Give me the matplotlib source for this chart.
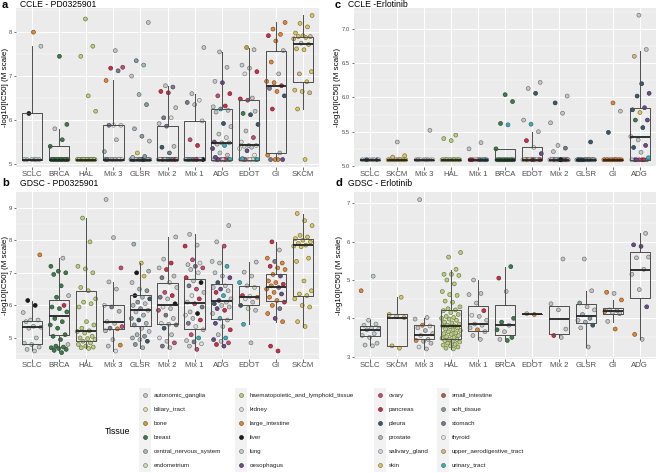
import matplotlib
matplotlib.use("Agg")
import matplotlib.pyplot as plt
from matplotlib.patches import Rectangle
import matplotlib.colors as mcolors
import numpy as np

plt.rcParams['font.family'] = ['Liberation Sans', 'DejaVu Sans']

# ---------------- tissues ----------------
TISSUE_CODES = ["AG", "BT", "BO", "BR", "CN", "EN", "HL", "KI", "LI", "LV", "LU", "OE",
                "OV", "PA", "PL", "PR", "SG", "SK", "SI", "ST", "SO", "TH", "UA", "UT"]
TISSUE_NAMES = ["autonomic_ganglia", "biliary_tract", "bone", "breast", "central_nervous_system",
                "endometrium", "haematopoietic_and_lymphoid_tissue", "kidney", "large_intestine",
                "liver", "lung", "oesophagus", "ovary", "pancreas", "pleura", "prostate",
                "salivary_gland", "skin", "small_intestine", "soft_tissue", "stomach", "thyroid",
                "upper_aerodigestive_tract", "urinary_tract"]
TISSUE_COLORS = ["#c6c6c6", "#e6dfa6", "#c9a23a", "#3f7d4c", "#a9b9b9", "#c9e0b2",
                 "#bccf7e", "#dedede", "#e0893a", "#1a1a1a", "#c2cdcd", "#6b4c8c",
                 "#c2507b", "#c8324b", "#3b5b6b", "#b9b9b9", "#d9d9d9", "#d9c862",
                 "#a06b52", "#8b9b9b", "#7b7b8b", "#e9e9e9", "#d9b98a", "#41b0b8"]

# ---------------- panel a: CCLE - PD0325901 ----------------
A_CATS = ["SCLC", "BRCA", "HAL", "Mix 3", "GLSR", "Mix 2", "Mix 1", "ADG", "EDOT", "GI", "SKCM"]
A_Q1 = [5.1, 5.1, 5.1, 5.1, 5.1, 5.1, 5.1, 5.1, 5.1, 5.25, 6.87]
A_MED = [5.1, 5.1, 5.1, 5.1, 5.1, 5.1, 5.1, 5.48, 5.42, 6.78, 7.72]
A_Q3 = [6.15, 5.4, 5.1, 5.88, 5.1, 5.86, 5.98, 6.25, 6.45, 7.58, 7.9]
A_WLO = [5.1, 5.1, 5.1, 5.1, 5.1, 5.1, 5.1, 5.1, 5.1, 5.1, 6.25]
A_WHI = [7.68, 5.8, 5.1, 6.9, 5.1, 6.78, 6.6, 7.55, 7.65, 8.22, 8.38]
A_VALS = {
    "SCLC": [5.1] * 6 + [6.15, 7.68, 8.0],
    "BRCA": [5.1] * 12 + [5.4, 5.55, 5.8, 5.9, 7.45],
    "HAL": [5.1] * 20 + [6.2, 6.55, 7.45, 7.68, 8.3],
    "Mix 3": [5.1] * 12 + [5.28, 5.55, 5.88, 5.88, 5.88, 6.9, 7.12, 7.18, 7.2, 7.58],
    "GLSR": [5.1] * 38 + [5.15, 5.17, 5.25, 5.52, 5.63, 5.8, 6.35, 6.58, 7.0, 7.25, 7.35, 8.22],
    "Mix 2": [5.1] * 21 + [5.25, 5.38, 5.4, 5.86, 5.92, 6.05, 6.05, 6.28, 6.62, 6.65, 6.75, 6.78],
    "Mix 1": [5.1] * 13 + [5.42, 5.55, 5.98, 6.35, 6.4, 6.45, 6.6, 7.65],
    "ADG": [5.1] * 9 + [5.15, 5.2, 5.25, 5.35, 5.42, 5.45, 5.48, 5.48, 5.5, 5.6, 5.68, 5.85, 5.92,
                        6.18, 6.22, 6.25, 6.3, 6.32, 6.55, 6.6, 6.85, 6.88, 7.2, 7.55],
    "EDOT": [5.1] * 9 + [5.12, 5.2, 5.3, 5.35, 5.38, 5.4, 5.42, 5.42, 5.5, 5.6, 5.75, 5.9, 6.12,
                         6.15, 6.2, 6.45, 6.48, 6.5, 7.05, 7.1, 7.18, 7.25, 7.6, 7.65],
    "GI": [5.1, 5.1, 5.1, 5.1, 5.2, 5.25, 6.25, 6.55, 6.65, 6.72, 6.78, 6.85, 6.88, 7.05, 7.32,
           7.58, 7.8, 7.92, 7.95, 8.07, 8.22],
    "SKCM": [5.1, 6.25, 6.62, 6.65, 6.68, 6.87, 7.05, 7.1, 7.6, 7.62, 7.72, 7.75, 7.85, 7.88, 7.9,
             7.9, 7.92, 7.98, 8.12, 8.2, 8.38],
}
A_TIS = {
    "SCLC": "LU LU LU LU LU LU LV LU LI",
    "BRCA": "BR BR PA BR BR BR BR BR BR BR BR BR BR BR AG BR BR",
    "HAL": "HL",
    "Mix 3": "KI PR OV KI SO AG TH KI LU SO KI PR CN AG SO KI TH LI SO PA OV AG",
    "GLSR": "CN ST PL LU " * 9 + "CN ST " + "CN ST SK AG ST CN ST CN AG CN ST AG",
    "Mix 2": "OV PA UT KI SO AG PR " * 3 + "SO PL AG SO AG KI SO AG PA PA SO AG",
    "Mix 1": "LV OV UT KI SO AG PR LV OV UT KI SO AG PA OV SG AG SO KI AG AG",
    "ADG": "PA OE UT OV LU PA OE UT LU OE AG LU OE UT AG LU LU OE SG LU AG PL AG LU UT LU PA OV PA OE LU AG AG",
    "EDOT": "EN OV UT TH KI EN OV UT TH UT TH OE TH LU EN KI AG KI OV AG PL PL BR AG OV PA AG KI PA AG LU AG BO",
    "GI": "LI SO OE LI LI AG PA PL LI SO PA LI LI AG LI AG LI PA LI LI LI",
    "SKCM": "SK SK UA SK SK SK UA SK SK SK SK AG SK SK SK UA SK SK SK SK SK",
}

# ---------------- panel b: GDSC - PD0325901 ----------------
B_CATS = ["SCLC", "BRCA", "HAL", "Mix 3", "GLSR", "Mix 2", "Mix 1", "ADG", "EDOT", "GI", "SKCM"]
B_Q1 = [4.82, 5.1, 4.9, 5.28, 5.38, 5.42, 5.28, 5.57, 6.0, 6.13, 6.3]
B_MED = [5.33, 5.67, 5.2, 5.5, 5.85, 6.02, 6.07, 6.15, 6.27, 6.57, 7.85]
B_Q3 = [5.53, 6.17, 6.45, 6.02, 6.33, 6.68, 6.82, 6.67, 6.6, 6.95, 8.03]
B_WLO = [4.62, 4.6, 4.68, 4.6, 4.7, 4.68, 4.65, 4.75, 5.43, 5.5, 5.35]
B_WHI = [6.15, 7.45, 8.68, 6.72, 7.3, 8.1, 8.18, 7.78, 7.33, 7.95, 8.82]
B_VALS = {
    "SCLC": [4.6, 4.65, 4.72, 4.8, 4.84, 5.0, 5.3, 5.33, 5.36, 5.5, 5.55, 5.55, 5.78, 6.0, 6.15, 7.55],
    "BRCA": [4.55, 4.62, 4.65, 4.68, 4.7, 4.72, 4.75, 4.8, 4.95, 5.05, 5.1, 5.3, 5.4, 5.5, 5.6,
             5.8, 5.9, 5.95, 6.0, 6.25, 6.3, 6.6, 6.95, 7.0, 7.05, 7.2, 7.45],
    "HAL": [4.68, 4.7, 4.72, 4.75, 4.8, 4.85, 4.9, 4.95, 4.98, 5.0, 5.05, 5.15, 5.2, 5.22, 5.3,
            5.4, 5.5, 5.95, 6.05, 6.1, 6.2, 6.45, 6.55, 7.0, 7.12, 7.2, 7.95, 8.68],
    "Mix 3": [4.6, 4.75, 4.78, 4.95, 5.22, 5.28, 5.3, 5.35, 5.45, 5.5, 5.82, 5.95, 6.0, 6.5, 6.72,
              7.15, 8.08, 9.25],
    "GLSR": [4.7, 4.8, 4.9, 4.95, 5.0, 5.05, 5.1, 5.2, 5.3, 5.4, 5.45, 5.55, 5.6, 5.7, 5.8, 5.85,
             5.9, 6.0, 6.05, 6.1, 6.2, 6.25, 6.3, 6.45, 6.5, 6.7, 6.9, 7.0, 7.05, 7.3, 7.88],
    "Mix 2": [4.7, 4.75, 4.85, 4.9, 5.0, 5.1, 5.3, 5.4, 5.42, 5.45, 5.6, 5.7, 5.85, 5.9, 5.95,
              6.05, 6.2, 6.25, 6.3, 6.4, 6.55, 6.7, 6.85, 6.9, 7.1, 7.15, 7.3, 7.42, 8.1],
    "Mix 1": [4.65, 4.75, 4.82, 4.88, 4.92, 5.0, 5.1, 5.25, 5.35, 5.45, 5.55, 5.6, 5.7, 5.75, 5.8,
              5.95, 6.05, 6.1, 6.2, 6.3, 6.4, 6.5, 6.6, 6.7, 6.75, 6.85, 7.0, 7.1, 7.15, 7.2,
              7.25, 7.3, 7.4, 7.82, 7.85, 8.18],
    "ADG": [4.75, 4.8, 4.85, 4.9, 4.95, 5.0, 5.1, 5.25, 5.35, 5.45, 5.55, 5.6, 5.75, 5.85, 5.9,
            5.95, 6.0, 6.05, 6.1, 6.15, 6.2, 6.3, 6.4, 6.45, 6.5, 6.55, 6.6, 6.7, 6.85, 6.9, 7.0,
            7.2, 7.3, 7.35, 7.82, 7.95, 8.45],
    "EDOT": [4.85, 5.42, 5.85, 5.9, 6.0, 6.1, 6.2, 6.25, 6.28, 6.3, 6.55, 6.6, 6.7, 6.9, 7.02, 7.33],
    "GI": [4.6, 4.75, 5.5, 5.6, 5.75, 5.9, 6.0, 6.1, 6.15, 6.25, 6.35, 6.4, 6.5, 6.55, 6.6, 6.65,
           6.7, 6.75, 6.9, 6.95, 7.1, 7.15, 7.2, 7.3, 7.35, 7.45, 7.7, 7.95],
    "SKCM": [5.35, 5.5, 5.95, 6.0, 6.2, 6.3, 6.35, 6.45, 6.75, 7.35, 7.45, 7.8, 7.82, 7.85, 7.9,
             7.95, 8.0, 8.05, 8.1, 8.15, 8.45, 8.6, 8.82],
}
B_TIS = {
    "SCLC": "LU LU LU LU LU LU LU LU LU LU LU LU LU LV LV LI",
    "BRCA": "BR BR BR BR BR BR BR AG BR BR BR BR BR BR BR BR BR BR PA BR AG BR BR BR BR BR AG",
    "HAL": "HL",
    "Mix 3": "KI AG LI AG PR LI SO OV AG KI PR SO KI AG AG OV AG AG",
    "GLSR": "CN ST PL LU CN ST CN LU AG ST CN PL ST CN AG LU ST CN AG ST PL CN LV ST CN AG SK LV CN SK CN",
    "Mix 2": "AG SO OV AG KI AG PL SO AG KI AG SO OV AG KI LV AG SO PA OV AG KI SO AG PA AG PA AG AG",
    "Mix 1": "OV AG KI SO AG UT OV AG KI SO PA AG KI LV AG SO OV AG PA KI AG OV SO LV AG PA KI AG OV SO AG KI OV PA AG AG",
    "ADG": "OE PA OV LU OE UT AG PA LU OE AG UT LU PA OE AG LU PL LU OE AG UT PA LU OE AG LU PL OE AG LU UT AG LU OV AG AG",
    "EDOT": "AG UT AG EN PL AG KI LI TH PA EN AG UT AG AG AG",
    "GI": "PA PA LI OE LI SO LI PA LI LI OE LI LI SO LI PA LI LI OE LI LI LI PA LI SO LI AG PA",
    "SKCM": "SK SK SK SK SK SK SK SK SK SK SK SK SK SK SK SK SK SK SK SK SK SK SK",
}

# ---------------- panel c: CCLE - Erlotinib ----------------
C_CATS = ["SCLC", "SKCM", "Mix 3", "HAL", "Mix 1", "BRCA", "EDOT", "Mix 2", "GLSR", "GI", "ADG"]
C_Q1 = [5.09] * 11
C_MED = [5.09, 5.09, 5.09, 5.09, 5.09, 5.09, 5.09, 5.09, 5.09, 5.09, 5.43]
C_Q3 = [5.09, 5.09, 5.09, 5.09, 5.09, 5.25, 5.27, 5.09, 5.09, 5.09, 5.85]
C_WLO = [5.09] * 11
C_WHI = [5.09, 5.09, 5.09, 5.09, 5.09, 5.25, 5.5, 5.09, 5.09, 5.09, 6.68]
C_VALS = {
    "SCLC": [5.09] * 8,
    "SKCM": [5.09] * 14 + [5.13, 5.15, 5.35],
    "Mix 3": [5.09] * 10 + [5.52],
    "HAL": [5.09] * 16 + [5.37, 5.4, 5.45],
    "Mix 1": [5.09] * 12 + [5.25, 5.34],
    "BRCA": [5.09] * 12 + [5.25, 5.6, 5.62, 5.94, 6.04],
    "EDOT": [5.09] * 20 + [5.18, 5.27, 5.37, 5.5, 5.61, 5.67, 6.06, 6.13, 6.22],
    "Mix 2": [5.09] * 22 + [5.21, 5.26, 5.3, 5.63, 5.77, 5.92, 6.02],
    "GLSR": [5.09] * 18 + [5.35],
    "GI": [5.09] * 14 + [5.49, 5.8, 5.92],
    "ADG": [5.09] * 7 + [5.12, 5.2, 5.27, 5.3, 5.38, 5.43, 5.56, 5.67, 5.67, 5.78, 5.82, 5.85,
                         6.02, 6.06, 6.2, 6.6, 6.7, 7.2],
}
C_TIS = {
    "SCLC": "LU LU PL LU LU LU PL LU",
    "SKCM": "SK SK UA SK SK SK UA SK SK SK SK UA SK SK UA SK AG",
    "Mix 3": "KI PR TH KI AG PR TH KI AG PR AG",
    "HAL": "HL",
    "Mix 1": "UT KI LV OV PA UT KI SO OV PA UT KI AG AG",
    "BRCA": "BR BR BR BR BR BR BR BR BR BR BR BR BR UT BR BR BR",
    "EDOT": "LI OV PA EN TH KI UT LI OV PA EN TH KI UT LI OV PA EN TH KI OE KI PA AG UT AG PL AG AG",
    "Mix 2": "OV PA UT KI SO AG PR OV PA UT KI SO AG PR OV PA UT KI SO AG PR LV AG SO AG AG AG PL AG",
    "GLSR": "CN ST PL CN ST PL CN ST PL CN ST PL CN ST PL CN ST PL PL",
    "GI": "LI LI LI LI SO LI LI LI LI LI LI LI LI LI PL AG LI",
    "ADG": "PA OE UT OV LU PA OE UT LU PL OE LU AG PL BR OE SK PL OE PL OE PL UA AG AG",
}

# ---------------- panel d: GDSC - Erlotinib ----------------
D_CATS = ["SCLC", "SKCM", "Mix 3", "HAL", "Mix 1", "BRCA", "EDOT", "Mix 2", "GLSR", "GI", "ADG"]
D_Q1 = [3.53, 3.28, 3.45, 3.45, 3.68, 3.57, 4.12, 3.6, 3.88, 4.1, 4.52]
D_MED = [3.7, 4.02, 3.57, 3.8, 3.85, 3.82, 4.12, 3.97, 4.05, 4.18, 5.27]
D_Q3 = [3.8, 4.1, 3.82, 4.23, 4.32, 4.35, 4.12, 4.33, 4.37, 4.28, 5.73]
D_WLO = [3.3, 3.28, 3.2, 3.2, 3.45, 3.45, 4.12, 3.5, 3.25, 3.9, 3.45]
D_WHI = [3.95, 4.55, 4.02, 5.27, 5.0, 5.35, 4.12, 4.33, 4.72, 4.48, 6.22]
D_VALS = {
    "SCLC": [3.28, 3.3, 3.35, 3.5, 3.55, 3.6, 3.7, 3.72, 3.75, 3.82, 3.85, 3.95, 4.72, 5.1],
    "SKCM": [3.22, 3.28, 4.02, 4.05, 4.1, 4.55],
    "Mix 3": [3.2, 3.25, 3.35, 3.4, 3.42, 3.45, 3.55, 3.6, 3.68, 3.75, 3.8, 3.82, 3.98, 4.02, 7.1],
    "HAL": [3.2, 3.22, 3.25, 3.28, 3.3, 3.32, 3.35, 3.38, 3.4, 3.42, 3.45, 3.45, 3.48, 3.5, 3.52,
            3.55, 3.58, 3.6, 3.62, 3.65, 3.68, 3.7, 3.72, 3.75, 3.78, 3.8, 3.8, 3.82, 3.85, 3.88,
            3.9, 3.95, 3.98, 4.0, 4.02, 4.05, 4.1, 4.15, 4.2, 4.22, 4.25, 4.3, 4.42, 4.45, 4.6,
            4.62, 4.7, 4.9, 5.0, 5.12, 5.15, 5.15, 5.28, 5.6, 5.72],
    "Mix 1": [3.45, 3.55, 3.65, 3.7, 3.75, 3.82, 3.85, 3.95, 4.05, 4.08, 4.2, 4.4, 4.62, 4.65, 5.0],
    "BRCA": [3.42, 3.45, 3.5, 3.65, 3.7, 3.82, 3.9, 4.0, 4.7, 5.05, 5.35],
    "EDOT": [4.1, 4.12],
    "Mix 2": [3.5, 3.55, 3.72, 4.22, 4.38, 5.55],
    "GLSR": [3.25, 3.75, 3.82, 3.9, 3.95, 4.0, 4.1, 4.22, 4.3, 4.4, 4.72, 5.55],
    "GI": [3.72, 3.92, 4.12, 4.15, 4.18, 4.2, 4.22, 4.48, 4.65, 4.68],
    "ADG": [3.45, 3.58, 4.3, 4.75, 5.15, 5.28, 5.58, 5.6, 5.88, 5.92, 6.22],
}
D_TIS = {
    "SCLC": "LU LU LU LU LU LU LU LU LU LU LU LU LI LU",
    "SKCM": "SK SK SK AG SK SK",
    "Mix 3": "AG KI AG PR LI AG KI AG PR AG KI LI AG AG AG",
    "HAL": "HL",
    "Mix 1": "AG AG AG LI AG AG AG AG AG KI PA AG AG AG AG",
    "BRCA": "BR AG BR AG BR AG BR BR AG PA BR",
    "EDOT": "LI AG",
    "Mix 2": "AG PA AG AG AG AG",
    "GLSR": "AG AG PL CN AG ST CN AG AG ST AG AG",
    "GI": "LI AG AG AG LI AG AG LI AG LI",
    "ADG": "AG LI OE AG AG AG AG AG OE OE AG",
}

# ---------------- drawing ----------------
W, H = 658, 473
fig = plt.figure(figsize=(W / 100, H / 100), dpi=100)
code_color = dict(zip(TISSUE_CODES, TISSUE_COLORS))


def darker(c, f=0.55):
    r, g, b = mcolors.to_rgb(c)
    return (r * f, g * f, b * f)


def add_ax(l, t, r, b):
    return fig.add_axes([l / W, 1 - b / H, (r - l) / W, (b - t) / H])


def draw_panel(ax, left_px, width_px, cats, vals, tis, q1, med, q3, wlo, whi,
               ylim, yticks, ytl, yminor, label_px):
    ax.set_facecolor("#EBEBEB")
    for s in ax.spines.values():
        s.set_visible(False)
    n = len(cats)
    ax.set_xlim(0.4, n + 0.6)
    ax.set_ylim(*ylim)
    for y in yminor:
        ax.axhline(y, color="white", lw=0.35, zorder=0)
    for y in yticks:
        ax.axhline(y, color="white", lw=0.75, zorder=0)
    for x in range(1, n + 1):
        ax.axvline(x, color="white", lw=0.75, zorder=0)
    for i, c in enumerate(cats):
        v = np.asarray(vals[c], dtype=float)
        codes = tis[c].split()
        codes = [codes[k % len(codes)] for k in range(len(v))]
        k = np.arange(len(v))
        off = (((k + 1) * 0.6180339887) % 1.0 - 0.5) * 0.72
        fc = [code_color[cc] for cc in codes]
        ec = [darker(code_color[cc]) for cc in codes]
        ax.scatter(i + 1 + off, v, s=8, c=fc, edgecolors=ec, linewidths=0.45, zorder=2)
    stats = []
    for i, c in enumerate(cats):
        stats.append(dict(q1=q1[i], med=med[i], q3=q3[i], whislo=wlo[i], whishi=whi[i], label=c))
    ax.bxp(stats, positions=range(1, n + 1), widths=0.75, showfliers=False, showcaps=False,
           boxprops=dict(color="#4d4d4d", lw=0.7), whiskerprops=dict(color="#4d4d4d", lw=0.7),
           medianprops=dict(color="#222222", lw=1.3), manage_ticks=False, zorder=3)
    ax.set_xticks(range(1, n + 1))
    ax.set_xticklabels(cats, fontsize=5.6, color="#4d4d4d")
    ax.set_yticks(yticks)
    ax.set_yticklabels(ytl, fontsize=4.2, color="#4d4d4d")
    ax.tick_params(axis="both", length=1.8, width=0.5, color="#333333", pad=1.0)
    ax.set_ylabel("-log10[IC50] (M scale)", fontsize=5.8)
    ax.yaxis.set_label_coords((label_px - left_px) / width_px, 0.5)


axa = add_ax(16, 8, 319, 167)
draw_panel(axa, 16, 303, A_CATS, A_VALS, A_TIS, A_Q1, A_MED, A_Q3, A_WLO, A_WHI,
           (4.93, 8.55), [5, 6, 7, 8], ["5", "6", "7", "8"], [5.5, 6.5, 7.5, 8.5], 9)
axc = add_ax(354, 8, 656, 167)
draw_panel(axc, 354, 302, C_CATS, C_VALS, C_TIS, C_Q1, C_MED, C_Q3, C_WLO, C_WHI,
           (4.985, 7.305), [5.0, 5.5, 6.0, 6.5, 7.0], ["5.0", "5.5", "6.0", "6.5", "7.0"],
           [5.25, 5.75, 6.25, 6.75, 7.25], 341)
axb = add_ax(16, 192, 319, 358.5)
draw_panel(axb, 16, 303, B_CATS, B_VALS, B_TIS, B_Q1, B_MED, B_Q3, B_WLO, B_WHI,
           (4.37, 9.48), [5, 6, 7, 8, 9], ["5", "6", "7", "8", "9"], [4.5, 5.5, 6.5, 7.5, 8.5], 9)
axd = add_ax(354, 192, 656, 358.5)
draw_panel(axd, 354, 302, D_CATS, D_VALS, D_TIS, D_Q1, D_MED, D_Q3, D_WLO, D_WHI,
           (2.95, 7.3), [3, 4, 5, 6, 7], ["3", "4", "5", "6", "7"], [3.5, 4.5, 5.5, 6.5], 343)


def ptitle(xl, xt, y, letter, txt):
    fig.text(xl / W, 1 - y / H, letter, fontsize=8, fontweight="bold", va="center", ha="left")
    fig.text(xt / W, 1 - y / H, txt, fontsize=6.2, va="center", ha="left")


ptitle(2, 20, 4.5, "a", "CCLE - PD0325901")
ptitle(335, 348, 4.5, "c", "CCLE -Erlotinib")
ptitle(2, 20, 183, "b", "GDSC - PD0325901")
ptitle(335, 348, 183, "d", "GDSC - Erlotinib")

# ---------------- legend ----------------
lax = fig.add_axes([0, 0, 1, 1], facecolor="none")
lax.set_xlim(0, W)
lax.set_ylim(H, 0)
lax.axis("off")
lax.text(118, 431, "Tissue", fontsize=6.3, ha="center", va="center")
col_key_x = [145, 241, 380, 443]
row_y = [395, 409, 423, 437, 451, 465]
for idx, (code, name) in enumerate(zip(TISSUE_CODES, TISSUE_NAMES)):
    ci, ri = divmod(idx, 6)
    kx, ky = col_key_x[ci], row_y[ri]
    lax.add_patch(Rectangle((kx - 6, ky - 7), 12, 14, facecolor="#F2F2F2", edgecolor="none"))
    col = code_color[code]
    lax.scatter([kx], [ky], s=8, c=[col], edgecolors=[darker(col)], linewidths=0.45)
    lax.text(kx + 9, ky, name, fontsize=4.5, ha="left", va="center", color="#222222")

fig.savefig("out.png", dpi=100)
